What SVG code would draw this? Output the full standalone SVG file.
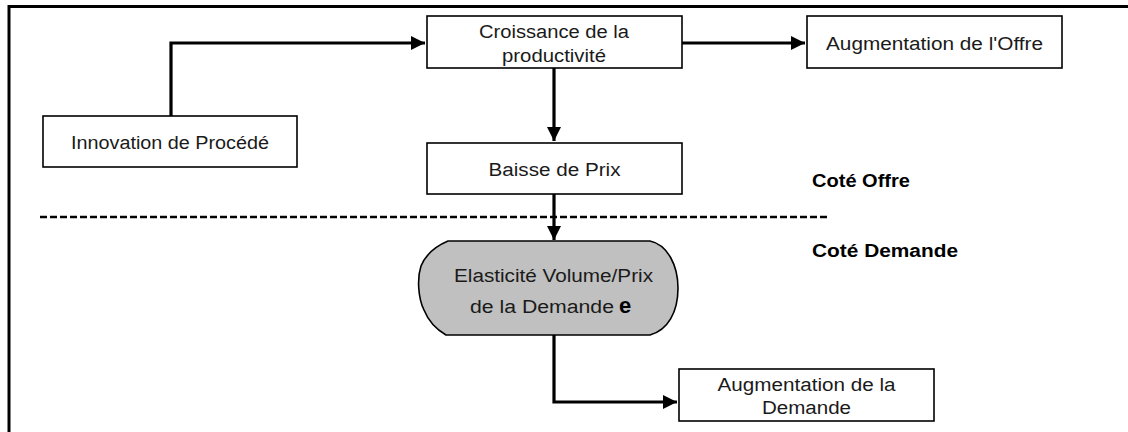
<svg xmlns="http://www.w3.org/2000/svg" width="1128" height="432" viewBox="0 0 1128 432">
<defs>
<style>
.box{fill:#fff;stroke:#000;stroke-width:1.6}
.t{font-family:"Liberation Sans",Arial,sans-serif;font-size:18px;fill:#1a1a1a;text-anchor:middle}
.b{font-family:"Liberation Sans",Arial,sans-serif;font-size:18px;font-weight:bold;fill:#000}
.c{fill:none;stroke:#000;stroke-width:3.2}
</style>
<marker id="ah" viewBox="0 0 10 10" refX="10" refY="5" markerWidth="4.4" markerHeight="4.4" markerUnits="strokeWidth" orient="auto">
<path d="M0,0 L10,5 L0,10 z" fill="#000"/>
</marker>
</defs>
<rect width="1128" height="432" fill="#fff"/>
<g id="frame">
<path d="M9,432 V6.5 H1128" fill="none" stroke="#000" stroke-width="3"/>
</g>
<g id="divider">
<line x1="40" y1="217" x2="829" y2="217" stroke="#000" stroke-width="2.6" stroke-dasharray="7 3"/>
</g>
<g id="connectors">
<path class="c" d="M171,116 V43 H425" marker-end="url(#ah)"/>
<path class="c" d="M682,43 H805" marker-end="url(#ah)"/>
<path class="c" d="M554,68 V141" marker-end="url(#ah)"/>
<path class="c" d="M554,194 V240" marker-end="url(#ah)"/>
<path class="c" d="M554,335 V402 H677" marker-end="url(#ah)"/>
</g>
<g id="innovation">
<rect class="box" x="43" y="116" width="254" height="51"/>
<text class="t" x="170" y="149" textLength="198" lengthAdjust="spacingAndGlyphs">Innovation de Procédé</text>
</g>
<g id="croissance">
<rect class="box" x="427" y="16" width="255" height="52"/>
<text class="t" x="554" y="38" textLength="150" lengthAdjust="spacingAndGlyphs">Croissance de la</text>
<text class="t" x="554" y="62" textLength="104" lengthAdjust="spacingAndGlyphs">productivité</text>
</g>
<g id="augmentation-offre">
<rect class="box" x="807" y="16" width="255" height="52"/>
<text class="t" x="934.5" y="50" textLength="217" lengthAdjust="spacingAndGlyphs">Augmentation de l'Offre</text>
</g>
<g id="baisse">
<rect class="box" x="427" y="143" width="255" height="51"/>
<text class="t" x="554.5" y="176" textLength="132" lengthAdjust="spacingAndGlyphs">Baisse de Prix</text>
</g>
<g id="elasticite">
<path d="M448,241 H650 C668,245 678,266 678,288 C678,312 668,330 650,335 H446 C434,328 428,320 424,310 C418,298 417,278 421,266 C426,254 436,246 448,241 Z" fill="#c0c0c0" stroke="#000" stroke-width="1.6"/>
<text class="t" x="553.5" y="282" textLength="199" lengthAdjust="spacingAndGlyphs">Elasticité Volume/Prix</text>
<text class="t" x="542" y="313" textLength="144" lengthAdjust="spacingAndGlyphs">de la Demande</text>
<text x="625" y="313" font-family="'Liberation Sans',Arial,sans-serif" font-size="22" font-weight="bold" fill="#000" text-anchor="middle">e</text>
</g>
<g id="augmentation-demande">
<rect class="box" x="679" y="369" width="255" height="52"/>
<text class="t" x="806.5" y="391" textLength="178" lengthAdjust="spacingAndGlyphs">Augmentation de la</text>
<text class="t" x="806.5" y="414" textLength="89" lengthAdjust="spacingAndGlyphs">Demande</text>
</g>
<g id="labels">
<text class="b" x="812" y="187" textLength="98" lengthAdjust="spacingAndGlyphs">Coté Offre</text>
<text class="b" x="812" y="257" textLength="146" lengthAdjust="spacingAndGlyphs">Coté Demande</text>
</g>
</svg>
